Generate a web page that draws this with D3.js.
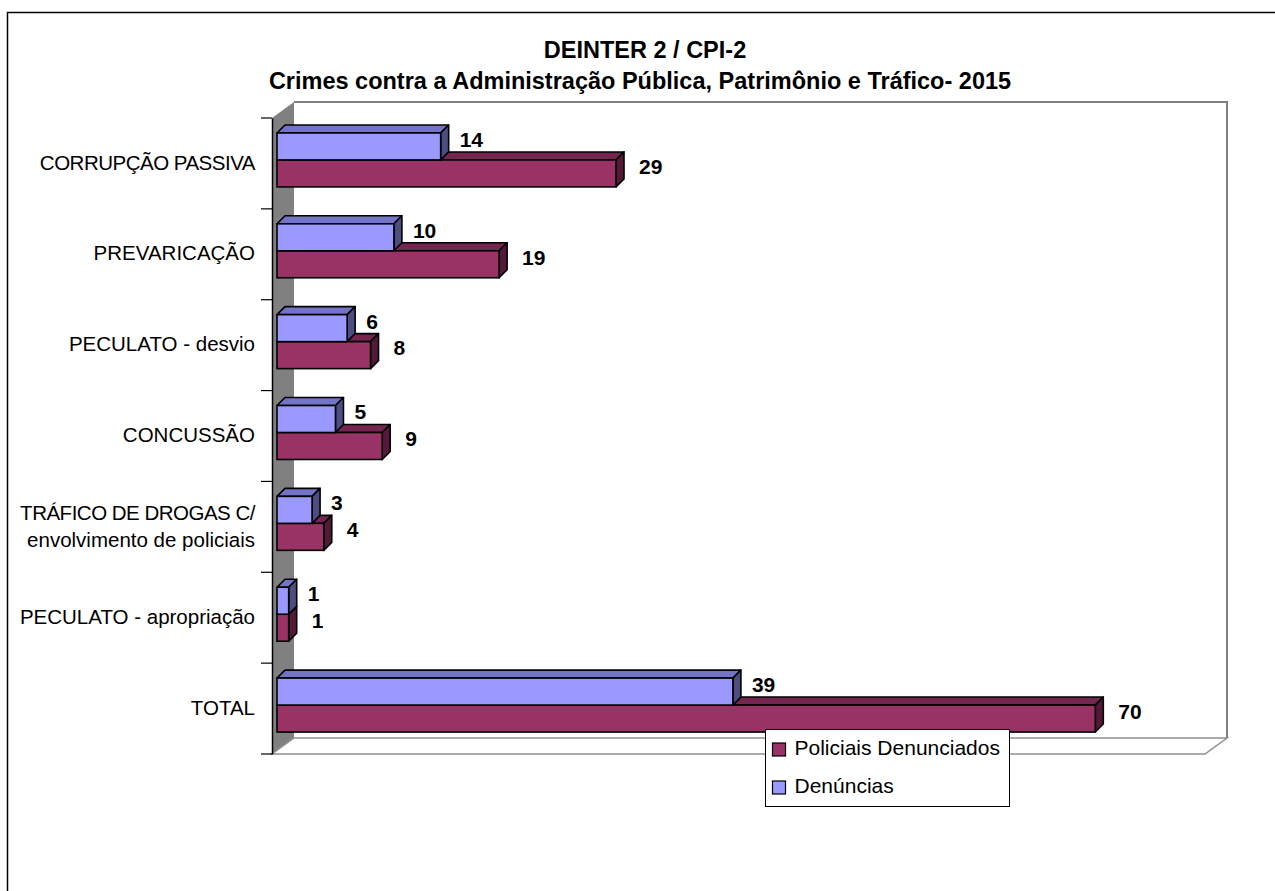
<!DOCTYPE html>
<html>
<head>
<meta charset="utf-8">
<script src="https://cdn.jsdelivr.net/npm/d3@7"></script>
<style>
  body { margin: 0; background: #fff; }
  text { font-family: "Liberation Sans", Arial, sans-serif; }
</style>
</head>
<body>
<div id="chart"></div>
<script>
const width = 1275, height = 891;

const categories = ["CORRUPÇÃO PASSIVA", "PREVARICAÇÃO", "PECULATO - desvio", "CONCUSSÃO",
  "TRÁFICO DE DROGAS C/\nenvolvimento de policiais", "PECULATO - apropriação", "TOTAL"];
const series = ["Denúncias", "Policiais Denunciados"];
const denuncias = [14, 10, 6, 5, 3, 1, 39];
const policiais = [29, 19, 8, 9, 4, 1, 70];
const titleLines = ["DEINTER 2 / CPI-2", "Crimes contra a Administração Pública, Patrimônio e Tráfico- 2015"];

const colors = {
  "Denúncias": {front: "#9999ff", top: "#7373c8", side: "#4d4d80"},
  "Policiais Denunciados": {front: "#993366", top: "#742650", side: "#521a38"}
};

// plot geometry (front plane)
const plot = {left: 272, right: 1205, top: 118, bottom: 754};
const depth = {dx: 22, dy: -16};   // wall depth
const bdepth = {dx: 8, dy: -8};    // bar depth

const x = d3.scaleLinear().domain([0, 80]).range([plot.left + 5, plot.left + 5 + 80 * 11.69]);
const y = d3.scaleBand().domain(categories).range([plot.top, plot.bottom]);
const bw = y.bandwidth();
const barH = bw * 0.297;
const y1 = d3.scaleBand().domain(series)
  .range([bw / 2 - barH - 3.5, bw / 2 + barH - 3.5]);

const svg = d3.select("#chart").append("svg")
  .attr("width", width).attr("height", height);

// outer frame
svg.append("rect")
  .attr("x", 7.5).attr("y", 12.5)
  .attr("width", 1400).attr("height", 1000)
  .attr("fill", "none").attr("stroke", "#000").attr("stroke-width", 1.5);

// title
svg.append("text")
  .attr("text-anchor", "middle")
  .style("font-weight", "bold").style("font-size", "23.5px")
  .selectAll("tspan").data(titleLines).enter().append("tspan")
    .attr("x", (d, i) => i ? 640 : 645)
    .attr("y", (d, i) => 58 + i * 31)
    .text(d => d);

// side wall
svg.append("path")
  .attr("d", `M${plot.left},${plot.top}L${plot.left + depth.dx},${plot.top + depth.dy}` +
    `L${plot.left + depth.dx},${plot.bottom + depth.dy}L${plot.left},${plot.bottom}Z`)
  .attr("fill", "#808080");

// floor
svg.append("path")
  .attr("d", `M${plot.left},${plot.bottom}L${plot.right},${plot.bottom}` +
    `L${plot.right + depth.dx},${plot.bottom + depth.dy}L${plot.left + depth.dx},${plot.bottom + depth.dy}Z`)
  .attr("fill", "#fff").attr("stroke", "#909090").attr("stroke-width", 1.5);

// back wall
svg.append("path")
  .attr("d", `M${plot.left + depth.dx},${plot.top + depth.dy}L${plot.right + depth.dx},${plot.top + depth.dy}` +
    `L${plot.right + depth.dx},${plot.bottom + depth.dy}`)
  .attr("fill", "none").attr("stroke", "#808080").attr("stroke-width", 2);

// axis
const yAxis = d3.axisLeft(y).tickSize(0).tickFormat("");
const axisG = svg.append("g").attr("transform", `translate(${plot.left},0)`).call(yAxis);
axisG.select(".domain").attr("stroke", "#000").attr("stroke-width", 1.5);
axisG.selectAll(".tickmark")
  .data(d3.range(categories.length + 1)).enter().append("line")
  .attr("class", "tickmark")
  .attr("x1", -11).attr("x2", 0)
  .attr("y1", i => plot.top + i * y.step()).attr("y2", i => plot.top + i * y.step())
  .attr("stroke", "#000").attr("stroke-width", 1.2);

// category labels
const catLabels = svg.append("g").selectAll("text")
  .data(categories).enter().append("text")
  .attr("text-anchor", "end")
  .style("font-size", "20.5px")
  .attr("transform", d => `translate(255,${y(d) + bw / 2 - 1})`);
catLabels.each(function(d) {
  const lines = d.split("\n");
  d3.select(this).selectAll("tspan").data(lines).enter().append("tspan")
    .attr("x", 0)
    .attr("y", (l, i) => (i - (lines.length - 1) / 2) * 27)
    .attr("dy", "0.35em")
    .attr("letter-spacing", l => l === l.toUpperCase() && l.length > 15 ? "-0.5px" : null)
    .text(l => l);
});

// bars
const rows = [];
categories.forEach((c, i) => {
  rows.push({cat: c, s: series[1], v: policiais[i]});
  rows.push({cat: c, s: series[0], v: denuncias[i]});
});

const bars = svg.append("g").selectAll("g.bar")
  .data(rows).enter().append("g").attr("class", "bar");

bars.each(function(d) {
  const g = d3.select(this);
  const x0 = x(0), x1 = x(d.v);
  const t = y(d.cat) + y1(d.s), b = t + barH;
  const c = colors[d.s];
  const sw = 1.6;
  g.append("path")
    .attr("d", `M${x0},${t}L${x0 + bdepth.dx},${t + bdepth.dy}L${x1 + bdepth.dx},${t + bdepth.dy}L${x1},${t}Z`)
    .attr("fill", c.top).attr("stroke", "#000").attr("stroke-width", sw).attr("stroke-linejoin", "round");
  g.append("path")
    .attr("d", `M${x1},${t}L${x1 + bdepth.dx},${t + bdepth.dy}L${x1 + bdepth.dx},${b + bdepth.dy}L${x1},${b}Z`)
    .attr("fill", c.side).attr("stroke", "#000").attr("stroke-width", sw).attr("stroke-linejoin", "round");
  g.append("rect")
    .attr("x", x0).attr("y", t).attr("width", x1 - x0).attr("height", barH)
    .attr("fill", c.front).attr("stroke", "#000").attr("stroke-width", sw);
});

// value labels
const labelGap = {"Denúncias": 11, "Policiais Denunciados": 15};
svg.append("g").selectAll("text")
  .data(rows).enter().append("text")
  .attr("x", d => x(d.v) + bdepth.dx + labelGap[d.s])
  .attr("y", d => y(d.cat) + y1(d.s) + barH / 2 - 7)
  .attr("dy", "0.35em")
  .style("font-weight", "bold").style("font-size", "21px")
  .text(d => d.v);

// legend
const legend = svg.append("g").attr("transform", "translate(765.5,729.5)");
legend.append("rect")
  .attr("width", 244).attr("height", 77)
  .attr("fill", "#fff").attr("stroke", "#000").attr("stroke-width", 1);
const legItems = legend.selectAll("g.item")
  .data([series[1], series[0]]).enter().append("g")
  .attr("transform", (d, i) => `translate(0,${20 + i * 38})`);
legItems.append("rect")
  .attr("x", 7).attr("y", -6.5).attr("width", 13).attr("height", 13)
  .attr("fill", d => colors[d].front).attr("stroke", "#000").attr("stroke-width", 1.2);
legItems.append("text")
  .attr("x", 29).attr("y", -2).attr("dy", "0.35em")
  .style("font-size", "21px")
  .text(d => d);
</script>
</body>
</html>
